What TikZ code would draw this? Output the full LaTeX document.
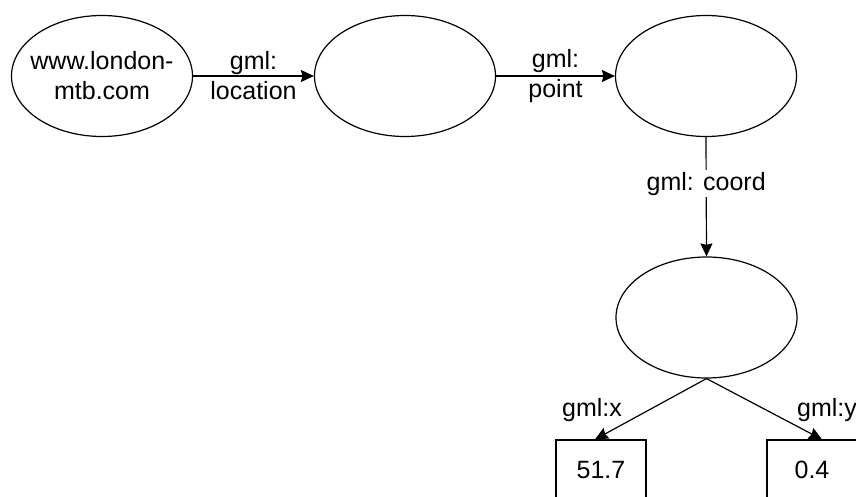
\documentclass[tikz,border=0pt]{standalone}
\usepackage{fontspec}
\setmainfont{Liberation Sans}
\usetikzlibrary{shapes.geometric,arrows.meta}
\begin{document}
\begin{tikzpicture}[x=1pt,y=-1pt,
  every node/.style={font=\fontsize{25}{30}\selectfont},
  ell/.style={draw, ellipse, line width=1.2pt, minimum width=181pt, minimum height=121pt, inner sep=0pt},
  valbox/.style={draw, rectangle, line width=1.2pt, minimum width=90pt, minimum height=60pt, inner sep=0pt},
  conn/.style={line width=1.2pt, -{Stealth[length=13pt,width=12pt,inset=1.5pt]}},
  lbl/.style={align=center, inner sep=1pt}]
\useasboundingbox (0,0) rectangle (856,497);
\clip (0,0) rectangle (856,497);
\node[ell, label={[lbl]center:{www.london-\\mtb.com}}] (e1) at (102,76) {};
\node[ell] (e2) at (405,76) {};
\node[ell] (e3) at (706,76) {};
\node[ell] (e4) at (706.5,317.5) {};
\node[valbox] (b1) at (601,470) {51.7};
\node[valbox] (b2) at (812,470) {0.4};
\draw[conn] (e1.east) -- node[lbl] {gml:\\location} (e2.west);
\draw[conn] (e2.east) -- node[lbl] {gml:\\point} (e3.west);
\draw[conn] (e3.south) -- node[lbl, fill=white, pos=0.39, inner sep=2pt] {gml: coord} (e4.north);
\draw[conn] (e4.south) -- ([xshift=-6pt]b1.north);
\draw[conn] (e4.south) -- ([xshift=10pt]b2.north);
\node[lbl] (lx) at (592,410) {gml:x};
\node[lbl] (ly) at (827,410) {gml:y};
\end{tikzpicture}
\end{document}
